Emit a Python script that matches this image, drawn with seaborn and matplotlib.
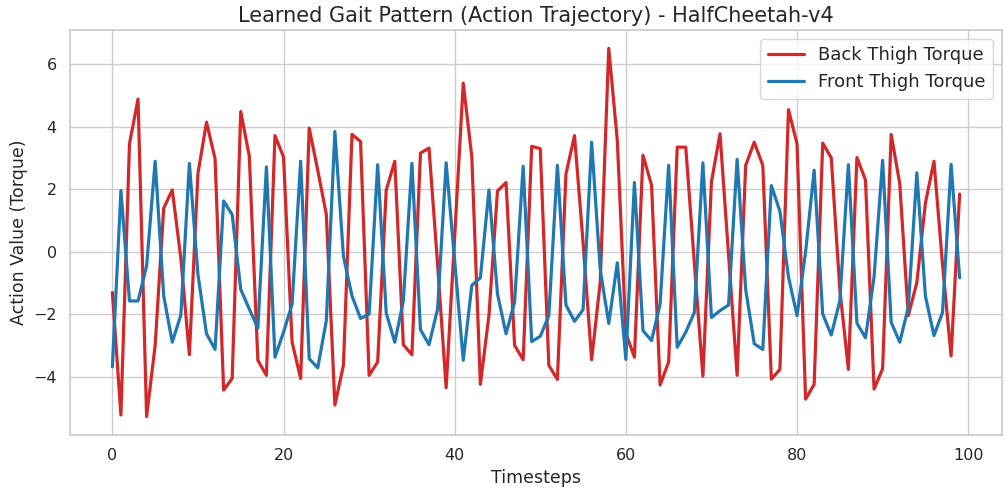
import numpy as np
import pandas as pd
import matplotlib
matplotlib.use("Agg")
import matplotlib.pyplot as plt
import seaborn as sns

# Per-step torque commands produced by the trained policy
back_thigh = [
    -1.30, -5.22, 3.46, 4.89, -5.27, -2.99, 1.40, 1.98, -0.20, -3.29,
    2.51, 4.15, 2.98, -4.42, -4.05, 4.49, 3.06, -3.47, -3.95, 3.72,
    3.04, -2.89, -4.05, 3.96, 2.61, 1.20, -4.90, -3.63, 3.76, 3.53,
    -3.95, -3.52, 1.98, 2.90, -2.97, -3.29, 3.16, 3.32, -0.40, -4.35,
    0.50, 5.40, 3.04, -4.24, -2.04, 1.95, 2.22, -2.99, -3.45, 3.38,
    3.30, -3.63, -4.08, 2.49, 3.72, 0.30, -3.45, -0.98, 6.51, 3.57,
    -2.60, -3.37, 3.09, 2.14, -4.26, -3.52, 3.35, 3.35, -0.35, -3.98,
    2.24, 3.78, -0.10, -3.95, 2.77, 3.51, 2.77, -4.07, -3.76, 4.55,
    3.46, -4.71, -4.24, 3.48, 3.01, -1.20, -3.76, 3.02, 2.30, -4.39,
    -3.74, 3.76, 2.19, -2.04, -0.98, 1.56, 2.90, -0.40, -3.33, 1.85,
]
front_thigh = [
    -3.68, 1.96, -1.57, -1.57, -0.45, 2.90, -1.41, -2.89, -2.02, 2.83,
    -0.72, -2.62, -3.12, 1.63, 1.19, -1.20, -1.83, -2.44, 2.72, -3.37,
    -2.57, -1.67, 2.90, -3.42, -3.71, -2.20, 3.85, -0.14, -1.41, -2.13,
    -1.99, 2.79, -1.96, -2.89, -1.57, 2.83, -2.49, -2.97, -1.83, 2.85,
    -0.30, -3.47, -1.07, -0.83, 1.98, -1.35, -2.62, -1.60, 2.74, -2.87,
    -2.70, -2.04, 2.77, -1.70, -2.22, -1.85, 3.51, -0.56, -2.29, -0.35,
    -3.44, 2.22, -2.52, -2.84, -1.67, 2.77, -3.05, -2.57, -1.94, 2.85,
    -2.10, -1.88, -1.70, 2.96, -1.20, -2.94, -3.12, 2.12, 1.30, -0.80,
    -2.04, 0.00, 2.61, -1.99, -2.66, -1.57, 2.79, -2.28, -2.75, -0.80,
    2.93, -2.25, -2.89, -1.78, 2.53, -1.41, -2.68, -1.94, 2.80, -0.83,
]
timesteps = list(range(len(back_thigh)))
series_names = ["Back Thigh Torque", "Front Thigh Torque"]
series_colors = ["#d62728", "#1f77b4"]

df = pd.DataFrame({
    "Timesteps": timesteps * 2,
    "Action": back_thigh + front_thigh,
    "Joint": [series_names[0]] * len(back_thigh) + [series_names[1]] * len(front_thigh),
})

sns.set_theme(style="whitegrid")
plt.rcParams["font.family"] = ["DejaVu Sans"]

fig = plt.figure(figsize=(10.05, 4.91), dpi=100)
ax = fig.add_axes([70 / 1005, (491 - 435) / 491, (1002 - 70) / 1005, (435 - 30) / 491])

sns.lineplot(
    data=df, x="Timesteps", y="Action", hue="Joint",
    palette=dict(zip(series_names, series_colors)),
    linewidth=2.3, ax=ax,
)

ax.set_title("Learned Gait Pattern (Action Trajectory) - HalfCheetah-v4", fontsize=15)
ax.set_xlabel("Timesteps", fontsize=12.5)
ax.set_ylabel("Action Value (Torque)", fontsize=12.5)
ax.tick_params(labelsize=11.5)
ax.legend(title=None, loc="upper right", fontsize=13)

fig.savefig("out.png", dpi=100)
